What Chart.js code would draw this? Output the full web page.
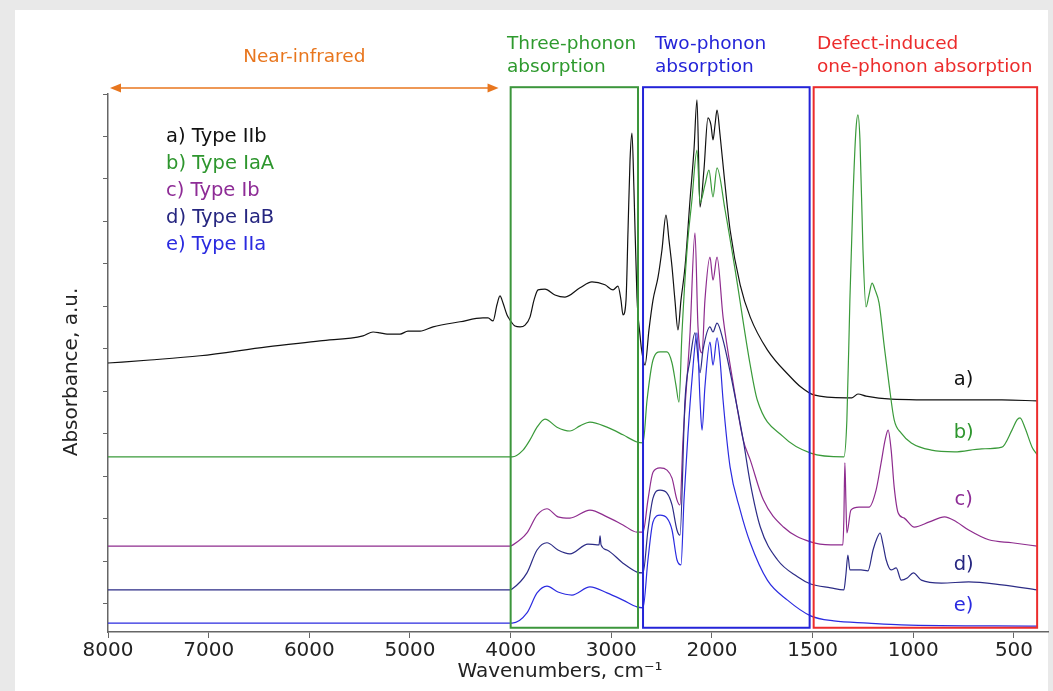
<!DOCTYPE html>
<html>
<head>
<meta charset="utf-8">
<script src="https://cdn.jsdelivr.net/npm/chart.js@4.4.0/dist/chart.umd.min.js"></script>
<style>
  html, body { margin: 0; padding: 0; background: #e9e9e9; }
  canvas { display: block; }
</style>
</head>
<body>
<canvas id="spectra" width="1053" height="691"></canvas>
<script>
const FONT = '"DejaVu Sans", Verdana, sans-serif';

// axis ticks, cm-1 (the scale is stretched 2x below 2000)
const tickWavenumbers = [8000, 7000, 6000, 5000, 4000, 3000, 2000, 1500, 1000, 500];
const absTicks = [0, 1, 2, 3, 4, 5, 6, 7, 8, 9, 10, 11, 12];

// a) Type IIb
const wnA = [8000, 7583, 7086, 6420, 5894, 5467, 5367, 5298, 5228, 5099, 5020, 4900, 4771, 4503, 4275, 4225, 4175, 4136, 4106, 4076,
  4036, 4006, 3957, 3907, 3857, 3808, 3768, 3728, 3659, 3560, 3460, 3311, 3192, 3063, 2983, 2934, 2904, 2884, 2854, 2834,
  2814, 2795, 2775, 2745, 2715, 2695, 2665, 2626, 2586, 2536, 2497, 2457, 2427, 2397, 2368, 2338, 2308, 2268, 2218, 2179,
  2149, 2119, 2080, 2040, 2010, 1995, 1985, 1975, 1960, 1940, 1910, 1860, 1810, 1725, 1610, 1560, 1495, 1335, 1305, 1275,
  1235, 1110, 810, 560, 385];
const absA = [5.67, 5.74, 5.84, 6.05, 6.19, 6.31, 6.40, 6.38, 6.35, 6.35, 6.42, 6.42, 6.52, 6.64, 6.73, 6.73, 6.66, 7.04, 7.25, 7.08,
  6.80, 6.68, 6.54, 6.52, 6.56, 6.75, 7.15, 7.39, 7.41, 7.27, 7.22, 7.44, 7.58, 7.51, 7.39, 7.48, 7.15, 6.80, 7.15, 8.80,
  10.45, 11.08, 9.74, 7.22, 6.33, 5.91, 5.62, 6.45, 7.15, 7.69, 8.33, 9.15, 8.56, 7.93, 7.15, 6.45, 7.15, 7.93, 9.51, 10.68,
  11.86, 9.34, 10.21, 11.44, 11.27, 10.92, 11.27, 11.62, 11.04, 10.09, 8.80, 7.51, 6.75, 5.98, 5.34, 5.11, 4.92, 4.85, 4.85, 4.94,
  4.89, 4.82, 4.80, 4.80, 4.78];

// b) Type IaA
const wnB = [8000, 6000, 4010, 3986, 3877, 3808, 3738, 3659, 3540, 3411, 3311, 3212, 3043, 2884, 2745, 2685, 2645, 2586, 2516, 2447,
  2397, 2358, 2328, 2298, 2248, 2199, 2149, 2119, 2070, 2030, 1995, 1975, 1935, 1885, 1810, 1775, 1645, 1510, 1345, 1330,
  1315, 1300, 1285, 1275, 1265, 1250, 1235, 1220, 1205, 1190, 1170, 1145, 1120, 1095, 1060, 1010, 910, 795, 660, 560,
  510, 485, 470, 445, 410, 385];
const absB = [3.46, 3.46, 3.46, 3.46, 3.62, 3.86, 4.16, 4.35, 4.16, 4.07, 4.19, 4.28, 4.16, 3.98, 3.81, 3.79, 4.80, 5.74, 5.93, 5.93,
  5.67, 5.15, 4.75, 6.38, 8.33, 9.51, 10.68, 9.44, 9.86, 10.21, 9.58, 10.26, 9.27, 7.86, 5.62, 4.80, 3.93, 3.55, 3.46, 4.33,
  7.15, 9.51, 11.15, 11.51, 10.92, 8.33, 6.99, 7.27, 7.55, 7.39, 7.08, 6.09, 5.15, 4.33, 4.02, 3.79, 3.62, 3.58, 3.65, 3.69,
  4.09, 4.33, 4.38, 4.14, 3.69, 3.51];

// c) Type Ib
const wnC = [8000, 6000, 4010, 3977, 3838, 3738, 3639, 3530, 3411, 3212, 3043, 2884, 2745, 2685, 2636, 2586, 2516, 2447, 2397, 2348,
  2318, 2288, 2218, 2169, 2139, 2099, 2070, 2020, 1995, 1975, 1945, 1895, 1845, 1810, 1745, 1645, 1510, 1410, 1350, 1345,
  1340, 1335, 1330, 1310, 1270, 1220, 1185, 1160, 1140, 1125, 1110, 1095, 1075, 1045, 995, 920, 845, 785, 725, 625,
  510, 385];
const absC = [1.36, 1.36, 1.36, 1.39, 1.67, 2.09, 2.24, 2.05, 2.02, 2.21, 2.05, 1.86, 1.69, 1.69, 2.45, 3.10, 3.20, 3.15, 2.96, 2.45,
  2.33, 3.86, 6.38, 8.73, 6.52, 5.91, 7.15, 8.16, 7.62, 8.16, 6.75, 5.20, 3.86, 3.39, 2.45, 1.81, 1.46, 1.39, 1.39, 1.98,
  3.32, 2.45, 1.67, 2.21, 2.28, 2.28, 2.68, 3.32, 3.86, 4.09, 3.62, 2.75, 2.14, 2.02, 1.81, 1.93, 2.05, 1.93, 1.74, 1.51,
  1.44, 1.36];

// d) Type IaB
const wnD = [8000, 6000, 4010, 3986, 3838, 3738, 3639, 3530, 3411, 3232, 3142, 3122, 3112, 3102, 3043, 2884, 2745, 2685, 2636, 2586,
  2516, 2447, 2397, 2348, 2318, 2268, 2218, 2169, 2119, 2089, 2020, 1995, 1975, 1945, 1895, 1845, 1810, 1760, 1675, 1575,
  1510, 1410, 1345, 1335, 1325, 1315, 1260, 1225, 1200, 1180, 1165, 1150, 1135, 1110, 1085, 1060, 1030, 1000, 960, 860,
  725, 560, 385];
const absD = [0.33, 0.33, 0.33, 0.35, 0.73, 1.27, 1.44, 1.27, 1.18, 1.41, 1.39, 1.39, 1.60, 1.39, 1.27, 0.96, 0.75, 0.73, 1.74, 2.49,
  2.68, 2.61, 2.33, 1.74, 1.62, 4.80, 5.74, 6.38, 5.44, 5.98, 6.52, 6.40, 6.61, 6.21, 5.11, 3.86, 2.85, 1.81, 1.04, 0.64,
  0.47, 0.38, 0.33, 0.68, 1.15, 0.80, 0.80, 0.78, 1.27, 1.55, 1.67, 1.39, 1.04, 0.80, 0.85, 0.56, 0.61, 0.73, 0.56, 0.49,
  0.52, 0.45, 0.33];

// e) Type IIa
const wnE = [8000, 6000, 4010, 3986, 3838, 3738, 3639, 3530, 3391, 3212, 3043, 2884, 2745, 2685, 2636, 2586, 2516, 2447, 2397, 2348,
  2308, 2278, 2238, 2199, 2149, 2119, 2099, 2070, 2020, 1995, 1975, 1960, 1945, 1910, 1860, 1810, 1725, 1625, 1510, 1395,
  1225, 1060, 385];
const absE = [-0.45, -0.45, -0.45, -0.45, -0.21, 0.26, 0.42, 0.28, 0.21, 0.40, 0.26, 0.09, -0.07, -0.09, 1.04, 1.93, 2.09, 2.02, 1.74, 1.04,
  0.92, 2.45, 4.02, 5.27, 6.38, 4.80, 4.09, 5.11, 6.16, 5.62, 6.26, 5.74, 4.80, 3.22, 2.21, 1.44, 0.56, 0.09, -0.28, -0.40,
  -0.45, -0.49, -0.52];

const seriesNames = ['a) Type IIb', 'b) Type IaA', 'c) Type Ib', 'd) Type IaB', 'e) Type IIa'];
const curveLabels = ['a)', 'b)', 'c)', 'd)', 'e)'];
const lineColors = ['#111111', '#3a9a3a', '#8e2c8e', '#2c2c86', '#2b2be0'];
const textColors = ['#111111', '#2e962e', '#8e2c96', '#262680', '#2a2ae0'];

// spectral regions (cm-1) and their captions
const regionFrom = [4000, 2685, 1495];
const regionTo = [2735, 1515, 385];
const regionColors = ['#3c963c', '#2424d8', '#ec2c2c'];
const regionCaptions = [['Three-phonon', 'absorption'], ['Two-phonon', 'absorption'], ['Defect-induced', 'one-phonon absorption']];

// wavenumber -> axis value; below 2000 cm-1 each unit is drawn twice as wide
function toAxis(w) { return w >= 2000 ? w : 2 * w - 2000; }
function fromAxis(u) { return u >= 2000 ? u : (u + 2000) / 2; }

function points(wn, abs) {
    return wn.map((w, i) => ({ x: toAxis(w), y: abs[i] }));
}

const allWn = [wnA, wnB, wnC, wnD, wnE];
const allAbs = [absA, absB, absC, absD, absE];

const datasets = allWn.map((wn, i) => ({
    label: seriesNames[i],
    data: points(wn, allAbs[i]),
    borderColor: lineColors[i],
    borderWidth: 1.2,
    pointRadius: 0,
    fill: false,
    cubicInterpolationMode: 'monotone'
})).reverse();

function arrowHead(ctx, x, y, dir) {
    ctx.beginPath();
    ctx.moveTo(x, y);
    ctx.lineTo(x + dir * 11, y - 4.5);
    ctx.lineTo(x + dir * 11, y + 4.5);
    ctx.closePath();
    ctx.fill();
}

const overlay = {
    id: 'overlay',
    beforeDraw(chart) {
        const ctx = chart.ctx;
        ctx.save();
        ctx.fillStyle = '#e9e9e9';
        ctx.fillRect(0, 0, chart.width, chart.height);
        ctx.fillStyle = '#ffffff';
        ctx.fillRect(15, 10, 1033, 681);
        ctx.restore();
    },
    afterDraw(chart) {
        const { ctx, scales: { x, y } } = chart;
        const px = w => x.getPixelForValue(toAxis(w));
        const py = v => y.getPixelForValue(v);
        ctx.save();

        // region boxes
        const top = py(12.16), bottom = py(-0.56);
        ctx.lineWidth = 2;
        regionFrom.forEach((from, i) => {
            ctx.strokeStyle = regionColors[i];
            ctx.strokeRect(px(from), top, px(regionTo[i]) - px(from), bottom - top);
        });

        // captions above the boxes
        ctx.font = `18.5px ${FONT}`;
        ctx.textAlign = 'left';
        ctx.textBaseline = 'alphabetic';
        const captionX = [507, 655, 817];
        regionCaptions.forEach((lines, i) => {
            ctx.fillStyle = regionColors[i] === '#3c963c' ? '#2e9a2e' : regionColors[i];
            ctx.fillText(lines[0], captionX[i], 49);
            ctx.fillText(lines[1], captionX[i], 72);
        });

        // near-infrared arrow
        const ay = 88, ax1 = px(7980), ax2 = px(4120);
        ctx.strokeStyle = '#e8761e';
        ctx.fillStyle = '#e8761e';
        ctx.lineWidth = 1.5;
        ctx.beginPath();
        ctx.moveTo(ax1 + 5, ay);
        ctx.lineTo(ax2 - 5, ay);
        ctx.stroke();
        arrowHead(ctx, ax1, ay, 1);
        arrowHead(ctx, ax2, ay, -1);
        ctx.textAlign = 'center';
        ctx.fillText('Near-infrared', (ax1 + ax2) / 2, 62);

        // legend list
        ctx.font = `19.5px ${FONT}`;
        ctx.textAlign = 'left';
        seriesNames.forEach((name, i) => {
            ctx.fillStyle = textColors[i];
            ctx.fillText(name, 166, 142 + i * 27);
        });

        // curve tags on the right
        const tagY = [5.27, 4.02, 2.45, 0.92, -0.05];
        ctx.textAlign = 'center';
        ctx.textBaseline = 'middle';
        curveLabels.forEach((t, i) => {
            ctx.fillStyle = textColors[i];
            ctx.fillText(t, px(750), py(tagY[i]));
        });

        // axis titles
        ctx.fillStyle = '#222';
        ctx.font = `20px ${FONT}`;
        ctx.fillText('Wavenumbers, cm⁻¹', 560, 672);
        ctx.translate(72, 372);
        ctx.rotate(-Math.PI / 2);
        ctx.fillText('Absorbance, a.u.', 0, 0);
        ctx.restore();
    }
};

new Chart(document.getElementById('spectra'), {
    type: 'line',
    data: { datasets },
    options: {
        responsive: false,
        animation: false,
        layout: { padding: { top: 94, right: 5, left: 0, bottom: 0 } },
        plugins: {
            legend: { display: false },
            tooltip: { enabled: false }
        },
        scales: {
            x: {
                type: 'linear',
                reverse: true,
                min: toAxis(331),
                max: 8000,
                afterBuildTicks: s => { s.ticks = tickWavenumbers.map(w => ({ value: toAxis(w) })); },
                afterFit: s => { s.height = 59; },
                ticks: {
                    callback: v => String(fromAxis(v)),
                    font: { family: FONT, size: 20 },
                    color: '#222',
                    padding: 1,
                    maxRotation: 0,
                    autoSkip: false
                },
                grid: { drawOnChartArea: false, tickLength: 6, color: '#666' },
                border: { color: '#666', width: 1.5 }
            },
            y: {
                min: -0.66,
                max: 12,
                afterBuildTicks: s => { s.ticks = absTicks.map(v => ({ value: v })); },
                afterFit: s => { s.width = 108; },
                ticks: { display: false },
                grid: { drawOnChartArea: false, tickLength: 5, color: '#666' },
                border: { color: '#666', width: 1.5 }
            }
        }
    },
    plugins: [overlay]
});
</script>
</body>
</html>
